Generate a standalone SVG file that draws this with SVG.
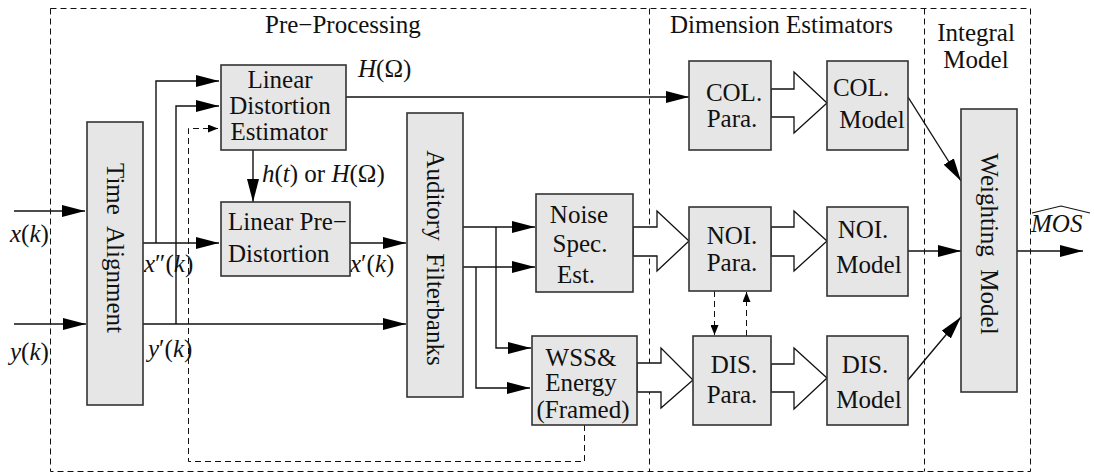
<svg xmlns="http://www.w3.org/2000/svg" width="1094" height="474" viewBox="0 0 1094 474">
  <style>
    text { font-family: "Liberation Serif", "DejaVu Serif", serif; font-size: 25px; fill: #111; }
    .box { fill: #e6e6e6; stroke: #333; stroke-width: 1.6; }
    .frame { fill: none; stroke: #111; stroke-width: 1; stroke-dasharray: 6 4; }
    .wire { fill: none; stroke: #111; stroke-width: 1.4; }
    .dash { fill: none; stroke: #111; stroke-width: 1; stroke-dasharray: 6 4; }
    .block { fill: #fff; stroke: #111; stroke-width: 1.3; stroke-linejoin: miter; }
    .it { font-style: italic; }
    .mid { text-anchor: middle; }
  </style>
  <defs>
    <marker id="arr" markerUnits="userSpaceOnUse" markerWidth="24" markerHeight="12" refX="23" refY="6" orient="auto">
      <path d="M0,0 L23,6 L0,12 z" fill="#000"/>
    </marker>
    <marker id="arrs" markerUnits="userSpaceOnUse" markerWidth="10" markerHeight="8" refX="10" refY="4" orient="auto">
      <path d="M0,0 L10,4 L0,8 z" fill="#000"/>
    </marker>
  </defs>

  <g font-family="Liberation Serif, DejaVu Serif, serif">
  <!-- section frames -->
  <g id="frames">
    <rect class="frame" x="50.5" y="8.5" width="980" height="463"/>
    <line class="frame" x1="649.5" y1="8.5" x2="649.5" y2="471.5"/>
    <line class="frame" x1="924.5" y1="8.5" x2="924.5" y2="471.5"/>
    <text x="265" y="33">Pre−Processing</text>
    <text x="670" y="33">Dimension Estimators</text>
    <text class="mid" x="976" y="41">Integral</text>
    <text class="mid" x="976" y="68">Model</text>
  </g>

  <!-- connectors -->
  <g id="connectors">
    <path class="wire" d="M14,211 H85" marker-end="url(#arr)"/>
    <path class="wire" d="M14,324 H86" marker-end="url(#arr)"/>
    <path class="wire" d="M143,243 H219" marker-end="url(#arr)"/>
    <path class="wire" d="M156,243 V81 H219" marker-end="url(#arr)"/>
    <path class="wire" d="M143,324 H406" marker-end="url(#arr)"/>
    <path class="wire" d="M176,324 V106 H219" marker-end="url(#arr)"/>
    <path class="wire" d="M253,150 V202" marker-end="url(#arr)"/>
    <path class="wire" d="M350,243 H406" marker-end="url(#arr)"/>
    <path class="wire" d="M346,97 H689" marker-end="url(#arr)"/>
    <path class="wire" d="M463,227 H535" marker-end="url(#arr)"/>
    <path class="wire" d="M463,267 H535" marker-end="url(#arr)"/>
    <path class="wire" d="M496,227 V348 H531" marker-end="url(#arr)"/>
    <path class="wire" d="M476,267 V388 H530" marker-end="url(#arr)"/>
    <path class="wire" d="M908,97 L961,181" marker-end="url(#arr)"/>
    <path class="wire" d="M908,251 H961" marker-end="url(#arr)"/>
    <path class="wire" d="M908,380 L961,317" marker-end="url(#arr)"/>
    <path class="wire" d="M1017,251 H1083" marker-end="url(#arr)"/>
    <path class="dash" d="M714.5,291 V335" marker-end="url(#arrs)"/>
    <path class="dash" d="M746.5,336 V292" marker-end="url(#arrs)"/>
    <path class="dash" d="M584.5,425 V461.5 H188.5 V128.5 H218" marker-end="url(#arrs)"/>
    <!-- block arrows -->
    <polygon class="block" points="633,227 657,227 657,211 689,241 657,271 657,256 633,256"/>
    <polygon class="block" points="637,363 661,363 661,348 693,380 661,408 661,392 637,392"/>
    <polygon class="block" points="771,89 794,89 794,72 827,103 794,133 794,117 771,117"/>
    <polygon class="block" points="771,227 794,227 794,211 827,241 794,271 794,256 771,256"/>
    <polygon class="block" points="771,364 794,364 794,348 827,378 794,409 794,392 771,392"/>
    <!-- signal labels -->
    <text x="10" y="242"><tspan class="it">x</tspan>(<tspan class="it">k</tspan>)</text>
    <text x="10" y="360"><tspan class="it">y</tspan>(<tspan class="it">k</tspan>)</text>
    <text x="144" y="272"><tspan class="it">x</tspan>″(<tspan class="it">k</tspan>)</text>
    <text x="148" y="357"><tspan class="it">y</tspan>′(<tspan class="it">k</tspan>)</text>
    <text x="350" y="272"><tspan class="it">x</tspan>′(<tspan class="it">k</tspan>)</text>
    <text x="358" y="77"><tspan class="it">H</tspan>(Ω)</text>
    <text x="262" y="182"><tspan class="it">h</tspan>(<tspan class="it">t</tspan>) or <tspan class="it">H</tspan>(Ω)</text>
    <text class="it" x="1031" y="232">MOS</text>
    <polyline fill="none" stroke="#111" stroke-width="1.1" points="1032,213 1061,206 1090,213"/>
  </g>

  <g id="time-alignment">
    <rect class="box" x="87" y="122" width="56" height="283"/>
    <text class="mid" x="107" y="248" transform="rotate(90 107 248)" xml:space="preserve">Time  Alignment</text>
  </g>
  <g id="linear-distortion-estimator">
    <rect class="box" x="221" y="65" width="125" height="85"/>
    <text class="mid" x="280" y="88">Linear</text>
    <text class="mid" x="280" y="114">Distortion</text>
    <text class="mid" x="279" y="140">Estimator</text>
  </g>
  <g id="linear-pre-distortion">
    <rect class="box" x="221" y="202" width="129" height="74"/>
    <text x="228" y="230">Linear Pre−</text>
    <text x="228" y="262">Distortion</text>
  </g>
  <g id="auditory-filterbanks">
    <rect class="box" x="407" y="113" width="56" height="284"/>
    <text class="mid" x="427" y="258" transform="rotate(90 427 258)" xml:space="preserve">Auditory  Filterbanks</text>
  </g>
  <g id="noise-spec-est">
    <rect class="box" x="536" y="194" width="97" height="98"/>
    <text class="mid" x="579" y="223">Noise</text>
    <text class="mid" x="580" y="252">Spec.</text>
    <text class="mid" x="576" y="283">Est.</text>
  </g>
  <g id="wss-energy">
    <rect class="box" x="532" y="336" width="105" height="89"/>
    <text class="mid" x="581" y="366">WSS&amp;</text>
    <text class="mid" x="581" y="391">Energy</text>
    <text class="mid" x="583" y="418">(Framed)</text>
  </g>
  <g id="col-para">
    <rect class="box" x="689" y="61" width="82" height="89"/>
    <text class="mid" x="734" y="101">COL.</text>
    <text class="mid" x="732" y="127">Para.</text>
  </g>
  <g id="noi-para">
    <rect class="box" x="689" y="207" width="82" height="84"/>
    <text class="mid" x="732" y="244">NOI.</text>
    <text class="mid" x="732" y="271">Para.</text>
  </g>
  <g id="dis-para">
    <rect class="box" x="693" y="336" width="78" height="89"/>
    <text class="mid" x="734" y="373">DIS.</text>
    <text class="mid" x="732" y="403">Para.</text>
  </g>
  <g id="col-model">
    <rect class="box" x="827" y="61" width="81" height="89"/>
    <text class="mid" x="861" y="96">COL.</text>
    <text class="mid" x="872" y="128">Model</text>
  </g>
  <g id="noi-model">
    <rect class="box" x="827" y="207" width="81" height="89"/>
    <text class="mid" x="863" y="238">NOI.</text>
    <text class="mid" x="869" y="273">Model</text>
  </g>
  <g id="dis-model">
    <rect class="box" x="827" y="336" width="81" height="89"/>
    <text class="mid" x="865" y="373">DIS.</text>
    <text class="mid" x="869" y="408">Model</text>
  </g>
  <g id="weighting-model">
    <rect class="box" x="961" y="109" width="56" height="283"/>
    <text class="mid" x="981" y="244" transform="rotate(90 981 244)" xml:space="preserve">Weighting  Model</text>
  </g>
  </g>
</svg>
